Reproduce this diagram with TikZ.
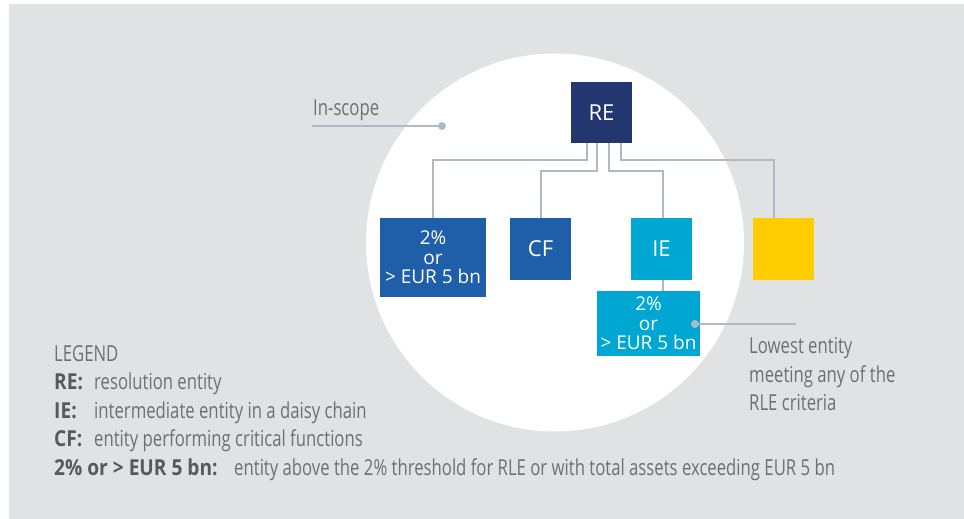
\documentclass[tikz,border=0pt]{standalone}
\usepackage{fontspec}
\setmainfont{Open Sans}
\newfontfamily\condfont{Open Sans}[FakeStretch=0.76]
\newfontfamily\condboldfont{Open Sans Bold}[FakeStretch=0.87]
\definecolor{bggray}{HTML}{E1E2E3}
\definecolor{navy}{HTML}{23366F}
\definecolor{midblue}{HTML}{1F5FAA}
\definecolor{cyanblue}{HTML}{00A7D3}
\definecolor{ylw}{HTML}{FFCD00}
\definecolor{conn}{HTML}{AEBAC3}
\definecolor{txtgray}{HTML}{6E6F71}
\definecolor{boldgray}{HTML}{58595B}
\tikzset{
  entity/.style={rectangle, inner sep=0, text=white, align=center},
  bigtxt/.style={font=\fontsize{22}{26}\selectfont},
  smalltxt/.style={font=\fontsize{19}{19.5}\selectfont},
  link/.style={draw=conn, line width=2},
  legtxt/.style={anchor=base west, inner sep=0, text=txtgray, font=\condfont\fontsize{22}{29}\selectfont},
  legbold/.style={anchor=base west, inner sep=0, text=boldgray, font=\condboldfont\fontsize{22}{29}\selectfont},
  notetxt/.style={anchor=base west, inner sep=0, text=txtgray, align=left, font=\condfont\fontsize{22}{28.5}\selectfont},
}
\begin{document}
\begin{tikzpicture}[x=1pt,y=-1pt]
\useasboundingbox (0,0) rectangle (964,519);
\fill[white] (0,0) rectangle (964,519);
\fill[bggray] (9,4) rectangle (964,519);
\fill[white] (555,242.5) circle (189);

% entities
\node[entity, fill=navy, minimum width=61, minimum height=61, bigtxt] (RE) at (601.5,112.5) {RE};
\node[entity, fill=midblue, minimum width=106, minimum height=79, smalltxt] (B1) at (433,257.5) {2\%\\or\\\textgreater{} EUR 5 bn};
\node[entity, fill=midblue, minimum width=61, minimum height=62, bigtxt] (CF) at (540.5,249) {CF};
\node[entity, fill=cyanblue, minimum width=61, minimum height=62, bigtxt] (IE) at (661.5,249) {IE};
\node[entity, fill=ylw, minimum width=61, minimum height=62] (YL) at (783.5,249) {};
\node[entity, fill=cyanblue, minimum width=103, minimum height=65, smalltxt] (B2) at (648.5,323.5) {2\%\\or\\\textgreater{} EUR 5 bn};

% connectors
\draw[link] ([xshift=16]RE.south west) -- ++(0,17) -| (B1.north);
\draw[link] ([xshift=26.5]RE.south west) -- ++(0,28) -| (CF.north);
\draw[link] ([xshift=38]RE.south west) -- ++(0,28) -| ([xshift=1.5]IE.north);
\draw[link] ([xshift=50]RE.south west) -- ++(0,17) -| ([xshift=21]YL.north west);
\draw[link] ([xshift=1.5]IE.south) -- ([xshift=1.5]IE.south |- B2.north);

% annotation pointers
\coordinate (scopedot) at (442,126);
\coordinate (scopeend) at (312,126);
\coordinate (lowdot) at (695,324);
\coordinate (lowend) at (796,324);
\draw[conn, line width=2] (scopeend) -- (scopedot);
\fill[conn] (scopedot) circle (4);
\draw[conn, line width=2] (lowdot) -- (lowend);
\fill[conn] (lowdot) circle (4);

\node[notetxt] (inscope) at (313,115) {In-scope};
\node[notetxt] (low1) at (749,353) {Lowest entity};
\node[notetxt] (low2) at (749,382) {meeting any of the};
\node[notetxt] (low3) at (749,410) {RLE criteria};

% legend
\node[legtxt] (leg) at (54,361) {LEGEND};
\node[legbold] (k1) at (54,389.5) {RE:};
\node[legtxt] (d1) at (94,389.5) {resolution entity};
\node[legbold] (k2) at (54,418) {IE:};
\node[legtxt] (d2) at (94,418) {intermediate entity in a daisy chain};
\node[legbold] (k3) at (54,446.5) {CF:};
\node[legtxt] (d3) at (94,446.5) {entity performing critical functions};
\node[legbold] (k4) at (54,475) {2\% or \textgreater{} EUR 5 bn:};
\node[legtxt] (d4) at (234,475) {entity above the 2\% threshold for RLE or with total assets exceeding EUR 5 bn};
\end{tikzpicture}
\end{document}
